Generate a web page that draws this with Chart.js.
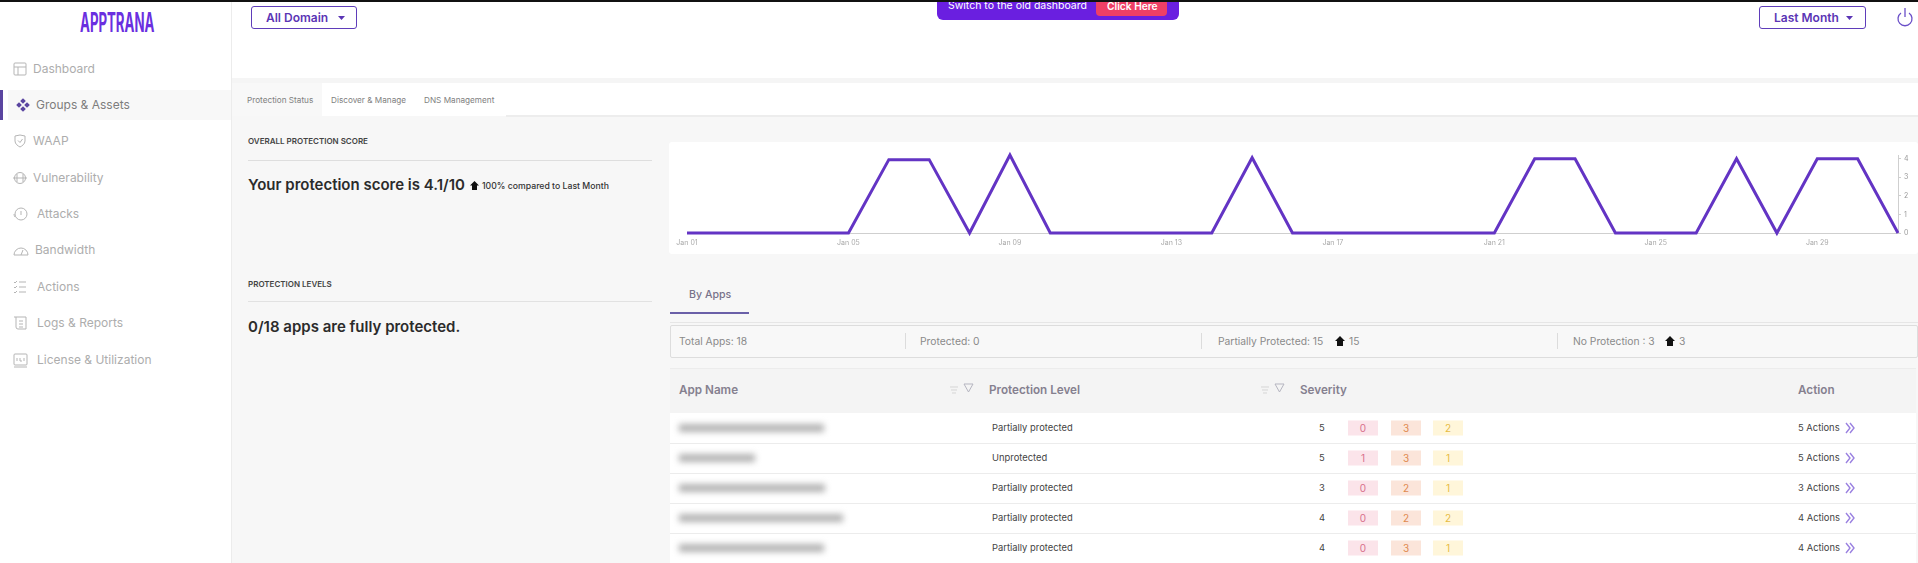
<!DOCTYPE html>
<html>
<head>
<meta charset="utf-8">
<script src="https://cdn.jsdelivr.net/npm/chart.js@4"></script>
<style>
    html, body { margin: 0; padding: 0; width: 1918px; height: 563px; overflow: hidden; background: #fff; font-family: Inter, "Noto Sans", sans-serif; }
    .box { position: absolute; box-sizing: border-box; }
    .t { position: absolute; white-space: nowrap; transform: translateY(-50%); line-height: 1; }
    .menu { font-size: 12px; color: #adadad; }
    .tab { font-size: 8.2px; color: #808080; }
    .cap { font-size: 8px; font-weight: 600; color: #444; }
    .big { font-size: 15px; font-weight: 600; color: #2b2b2b; }
    .sum { font-size: 10.3px; color: #8a8a8a; }
    .head { font-size: 11.7px; font-weight: 600; color: #85808f; }
    .cell { font-size: 9.4px; color: #444; }
    .badge { position: absolute; width: 30px; height: 15px; font-size: 10px; line-height: 15px; text-align: center; transform: translateY(-50%); }
    svg { position: absolute; overflow: visible; }
</style>
</head>
<body>
<div class="box" style="left:0;top:0;width:1918px;height:2px;background:#111;z-index:5"></div>

<!-- side bar -->
<div class="box" style="left:231px;top:0;width:1px;height:563px;background:#ececec"></div>
<div class="box" style="left:8px;top:90px;width:223px;height:30px;background:#f8f8f8"></div>
<div class="box" style="left:0;top:90px;width:3px;height:30px;background:#5a45a0"></div>
<div class="t" style="left:80px;top:22px;font-size:27px;font-weight:700;color:#6a2fe0;transform:translateY(-50%) scaleX(.49);transform-origin:left center">APPTRANA</div>

<!-- top bar -->
<div class="box" style="left:232px;top:78px;width:1686px;height:5px;background:#f5f5f5"></div>
<div class="box" style="left:251px;top:6px;width:106px;height:23px;border:1px solid #5f3dba;border-radius:3px"></div>
<div class="t" style="left:266px;top:18px;font-size:12px;font-weight:600;color:#5b35b5">All Domain</div>
<svg style="left:338px;top:16px" width="8" height="5"><polygon points="0,0 7,0 3.5,4" fill="#5b35b5"/></svg>
<div class="box" style="left:937px;top:0;width:242px;height:20px;background:#6a1fe0;border-radius:0 0 6px 6px"></div>
<div class="box" style="left:1096px;top:0;width:71px;height:16px;background:#ee3f66;border-radius:0 0 4px 4px"></div>
<div class="t" style="left:948px;top:6px;font-size:10.5px;color:#fff">Switch to the old dashboard</div>
<div class="t" style="left:1107px;top:6px;font-size:10.2px;font-weight:600;color:#fff">Click Here</div>
<div class="box" style="left:1759px;top:6px;width:107px;height:23px;border:1px solid #5f3dba;border-radius:3px"></div>
<div class="t" style="left:1774px;top:18px;font-size:12px;font-weight:600;color:#5b35b5">Last Month</div>
<svg style="left:1846px;top:16px" width="8" height="5"><polygon points="0,0 7,0 3.5,4" fill="#5b35b5"/></svg>
<svg style="left:1897px;top:7px" width="16" height="20" fill="none" stroke="#6a4fc8" stroke-width="1.3"><path d="M4 6 A7 7 0 1 0 12 6"/><path d="M8 1 V10"/></svg>

<!-- main area -->
<div class="box" style="left:232px;top:83px;width:1686px;height:480px;background:#f7f7f7"></div>
<div class="box" style="left:232px;top:83px;width:1686px;height:33px;background:#fff"></div>
<div class="box" style="left:232px;top:83px;width:90px;height:33px;background:#f8f8f8"></div>
<div class="box" style="left:506px;top:115px;width:1412px;height:2px;background:#ededed"></div>
<div class="t tab" style="left:247px;top:100px">Protection Status</div>
<div class="t tab" style="left:331px;top:100px">Discover &amp; Manage</div>
<div class="t tab" style="left:424px;top:100px">DNS Management</div>

<div class="t cap" style="left:248px;top:141px">OVERALL PROTECTION SCORE</div>
<div class="box" style="left:248px;top:160px;width:404px;height:1px;background:#dedede"></div>
<div class="t big" style="left:248px;top:184px">Your protection score is 4.1/10</div>
<svg style="left:470px;top:181px" width="9" height="10"><polygon points="4.5,0 9,4.5 7,4.5 7,9 2,9 2,4.5 0,4.5" fill="#111"/></svg>
<div class="t" style="left:482px;top:186px;font-size:8.7px;font-weight:500;color:#333">100% compared to Last Month</div>
<div class="t cap" style="left:248px;top:284px">PROTECTION LEVELS</div>
<div class="box" style="left:248px;top:301px;width:404px;height:1px;background:#e2e2e2"></div>
<div class="t big" style="left:248px;top:326px">0/18 apps are fully protected.</div>

<!-- chart card -->
<div class="box" style="left:669px;top:142px;width:1249px;height:112px;background:#fff;border-radius:3px">
    <canvas id="scoreChart" width="1249" height="112" style="display:block;width:1249px;height:112px"></canvas>
</div>

<!-- by apps -->
<div class="t" style="left:689px;top:295px;font-size:10.6px;font-weight:500;color:#77728a">By Apps</div>
<div class="box" style="left:670px;top:312px;width:79px;height:1.5px;background:#6a60a8"></div>
<div class="box" style="left:670px;top:322px;width:1248px;height:1px;background:#e6e6e6"></div>
<div class="box" style="left:670px;top:325px;width:1248px;height:33px;background:#f8f8f8;border:1px solid #dddddd;border-radius:2px"></div>
<div class="box" style="left:905px;top:333px;width:1px;height:16px;background:#dcdcdc"></div>
<div class="box" style="left:1201px;top:333px;width:1px;height:16px;background:#dcdcdc"></div>
<div class="box" style="left:1557px;top:333px;width:1px;height:16px;background:#dcdcdc"></div>
<div class="t sum" style="left:679px;top:341px">Total Apps: 18</div>
<div class="t sum" style="left:920px;top:341px">Protected: 0</div>
<div class="t sum" style="left:1218px;top:341px">Partially Protected: 15</div>
<svg style="left:1335px;top:336px" width="10" height="10"><polygon points="5,0 10,5 8,5 8,10 2,10 2,5 0,5" fill="#111"/></svg>
<div class="t sum" style="left:1349px;top:341px">15</div>
<div class="t sum" style="left:1573px;top:341px">No Protection : 3</div>
<svg style="left:1665px;top:336px" width="10" height="10"><polygon points="5,0 10,5 8,5 8,10 2,10 2,5 0,5" fill="#111"/></svg>
<div class="t sum" style="left:1679px;top:341px">3</div>

<div class="box" style="left:670px;top:368px;width:1246px;height:45px;background:#f4f4f4;border-top:1px solid #ececec"></div>
<div class="t head" style="left:679px;top:391px">App Name</div>
<div class="t head" style="left:989px;top:391px">Protection Level</div>
<div class="t head" style="left:1300px;top:391px">Severity</div>
<div class="t head" style="left:1798px;top:391px">Action</div>
<svg style="left:950px;top:383px" width="26" height="12" fill="none" stroke="#b5b5c0"><path d="M0 4H8M1 7H7M2 10H6" stroke="#d5d5d5"/><path d="M14 1H23L18.5 9Z"/></svg>
<svg style="left:1261px;top:383px" width="26" height="12" fill="none" stroke="#b5b5c0"><path d="M0 4H8M1 7H7M2 10H6" stroke="#d5d5d5"/><path d="M14 1H23L18.5 9Z"/></svg>
<div class="box" style="left:670px;top:413px;width:1246px;height:150px;background:#fff"></div>
<div id="rows"></div>

<script>
// daily protection score, Jan 01 - Jan 31
const days = ['Jan 01','Jan 02','Jan 03','Jan 04','Jan 05','Jan 06','Jan 07','Jan 08','Jan 09','Jan 10','Jan 11','Jan 12','Jan 13','Jan 14','Jan 15','Jan 16','Jan 17','Jan 18','Jan 19','Jan 20','Jan 21','Jan 22','Jan 23','Jan 24','Jan 25','Jan 26','Jan 27','Jan 28','Jan 29','Jan 30','Jan 31'];
const scores = [0,0,0,0,0,3.95,3.95,0,4.2,0,0,0,0,0,4.05,0,0,0,0,0,0,4,4,0,0,0,4,0,4,4,0];
const scoreTicks = [0,1,2,3,4];

const menuLabels = ['Dashboard','Groups & Assets','WAAP','Vulnerability','Attacks','Bandwidth','Actions','Logs & Reports','License & Utilization'];
const protection = ['Partially protected','Unprotected','Partially protected','Partially protected','Partially protected'];
const severity = [5,5,3,4,4];
const critical = [0,1,0,0,0];
const high = [3,3,2,2,3];
const medium = [2,1,1,2,1];
const nameWidths = [145,76,146,164,145];

function addEl(html) {
    document.body.insertAdjacentHTML('beforeend', html);
}

const menuY = [69,105,141,178,214,250,287,323,360];
const menuX = [33,36,33,33,37,35,37,37,37];
const menuIcons = [
    '<rect x="1" y="1" width="12" height="12" rx="1"/><path d="M1 5H13M5 5V13"/>',
    '',
    '<path d="M2 2L7 1L12 2V7C12 10 9 12 7 13C5 12 2 10 2 7Z"/><path d="M5 6.5L7 8.5L9.5 5"/>',
    '<circle cx="7" cy="7" r="5.5"/><path d="M0 7H14M4 3V11M10 3V11"/>',
    '<circle cx="8" cy="7" r="6"/><path d="M2 10A6 6 0 0 1 1 7M8 4V8"/>',
    '<path d="M1 12A7 7 0 0 1 15 12Z"/><path d="M8 12L10 7"/>',
    '<path d="M1 2L2 3L4 1M1 7L2 8L4 6M1 12L2 13L4 11M6 2H13M6 7H13M6 12H13"/>',
    '<path d="M3 1H13V13H5Q3 13 3 11ZM1 1H3M6 5H10M6 8H10M6 11H10"/>',
    '<rect x="1" y="1" width="13" height="11" rx="1"/><path d="M4 5V8M7 5V8H9M11 5V8M1 14H14"/>'
];
menuLabels.forEach((label, i) => {
    const color = i === 1 ? 'color:#7d7d7d' : '';
    addEl(`<div class="t menu" style="left:${menuX[i]}px;top:${menuY[i]}px;${color}">${label.replace('&', '&amp;')}</div>`);
    if (i === 1) {
        addEl(`<svg style="left:16px;top:${menuY[i] - 7}px" width="14" height="14" fill="#5a45a0"><rect x="5" y="1" width="4" height="4" transform="rotate(45 7 3)"/><rect x="1" y="5" width="4" height="4" transform="rotate(45 3 7)"/><rect x="9" y="5" width="4" height="4" transform="rotate(45 11 7)"/><rect x="5" y="9" width="4" height="4" transform="rotate(45 7 11)"/></svg>`);
    } else {
        addEl(`<svg style="left:13px;top:${menuY[i] - 7}px" width="14" height="14" fill="none" stroke="#b5b5b5">${menuIcons[i]}</svg>`);
    }
});

const rowY = [428,458,488,518,548];
protection.forEach((level, i) => {
    const y = rowY[i];
    addEl(`<div class="box" style="left:679px;top:${y - 4}px;width:${nameWidths[i]}px;height:8px;background:#b3b3b3;filter:blur(3px)"></div>`);
    addEl(`<div class="t cell" style="left:992px;top:${y}px">${level}</div>`);
    addEl(`<div class="t cell" style="left:1319px;top:${y}px">${severity[i]}</div>`);
    addEl(`<div class="badge" style="left:1348px;top:${y}px;background:#fbe4ea;color:#d8708c">${critical[i]}</div>`);
    addEl(`<div class="badge" style="left:1391px;top:${y}px;background:#fbe5da;color:#e08a50">${high[i]}</div>`);
    addEl(`<div class="badge" style="left:1433px;top:${y}px;background:#fff6da;color:#e6bb45">${medium[i]}</div>`);
    addEl(`<div class="t cell" style="left:1798px;top:${y}px">${severity[i]} Actions</div>`);
    addEl(`<svg style="left:1845px;top:${y - 6}px" width="10" height="12" fill="none" stroke="#9a80e0" stroke-width="1.4"><path d="M1 1L5 6L1 11M5 1L9 6L5 11"/></svg>`);
    if (i < 4) {
        addEl(`<div class="box" style="left:670px;top:${y + 15}px;width:1246px;height:1px;background:#ececec"></div>`);
    }
});

new Chart(document.getElementById('scoreChart').getContext('2d'), {
    type: 'line',
    data: {
        labels: days,
        datasets: [{
            data: scores,
            borderColor: '#6334c4',
            borderWidth: 3,
            tension: 0,
            pointRadius: 0,
            fill: false,
            clip: false
        }]
    },
    options: {
        responsive: false,
        animation: false,
        layout: { padding: { left: 18, top: 13 } },
        plugins: { legend: { display: false }, tooltip: { enabled: false } },
        scales: {
            x: {
                offset: false,
                afterFit: scale => { scale.height = 21; },
                grid: { display: false, drawTicks: false },
                border: { color: '#cfcfcf' },
                ticks: {
                    autoSkip: false,
                    maxRotation: 0,
                    color: '#aaaaaa',
                    padding: 6,
                    font: { family: 'Inter', size: 7 },
                    callback: function(value, index) {
                        return index % 4 === 0 && index < 30 ? days[index] : '';
                    }
                }
            },
            y: {
                position: 'right',
                min: 0,
                max: 4.2,
                afterFit: scale => { scale.width = 20; },
                afterBuildTicks: scale => { scale.ticks = scoreTicks.map(value => ({ value })); },
                grid: { drawOnChartArea: false, tickLength: 3, color: '#cfcfcf' },
                border: { color: '#cfcfcf' },
                ticks: {
                    color: '#999999',
                    padding: 3,
                    font: { family: 'Inter', size: 7 }
                }
            }
        }
    }
});
</script>
</body>
</html>
